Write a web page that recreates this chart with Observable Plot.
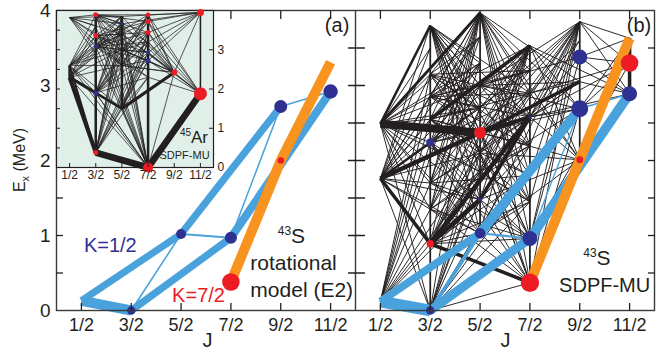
<!DOCTYPE html>
<html><head><meta charset="utf-8">
<script src="https://cdn.jsdelivr.net/npm/d3@7"></script>
<script src="https://cdn.jsdelivr.net/npm/@observablehq/plot@0.6"></script>
<style>
body{margin:0;background:#fff;}
#wrap{position:relative;width:665px;height:353px;}
#wrap svg{position:absolute;left:0;top:0;}
</style></head><body><div id="wrap"></div>
<script>
// ---------- tick labels ----------
const jLabels = ["1/2","3/2","5/2","7/2","9/2","11/2"];
const jValues = [0.5,1.5,2.5,3.5,4.5,5.5];
const eTicks = [0,1,2,3,4];
const eHalfTicks = [0.5,1,1.5,2,2.5,3,3.5];
const insetETicks = [0,1,2,3];

// ---------- panel (a): 43S rotational model (J1, E1, J2, E2, relative B(E2)) ----------
const rotK12 = [
  [0.5,0.13,1.5,0.00,1.0],
  [0.5,0.13,2.5,1.02,0.7],
  [2.5,1.02,4.5,2.72,0.72],
  [1.5,0.00,3.5,0.97,0.72],
  [3.5,0.97,5.5,2.92,0.82],
  [1.5,0.00,2.5,1.02,0.1],
  [2.5,1.02,3.5,0.97,0.14],
  [3.5,0.97,4.5,2.72,0.1],
  [4.5,2.72,5.5,2.92,0.1]
];
const rotK72 = [
  [3.5,0.38,4.5,2.00,1.0],
  [4.5,2.00,5.5,3.31,1.0]
];
// levels: J, E, band, relative strength
const rotLevels = [
  [1.5,0.00,"K1",0.42],[2.5,1.02,"K1",0.5],[3.5,0.97,"K1",0.6],[4.5,2.72,"K1",0.65],[5.5,2.92,"K1",0.72],
  [3.5,0.38,"K7",0.88],[4.5,2.00,"K7",0.33]
];

// ---------- panel (b): 43S SDPF-MU ----------
const smBlue = [
  [0.5,0.12,1.5,0.00,1.15],
  [0.5,0.12,2.5,1.03,0.78],
  [2.5,1.03,4.5,2.69,0.95],
  [1.5,0.00,3.5,0.96,0.9],
  [3.5,0.96,5.5,2.89,0.95],
  [1.5,0.00,2.5,1.03,0.32],
  [2.5,1.03,3.5,0.96,0.15],
  [3.5,0.96,4.5,2.69,0.08],
  [4.5,2.69,5.5,2.89,0.08]
];
const smOrange = [
  [3.5,0.37,4.5,2.01,1.0],
  [4.5,2.01,5.5,3.63,1.0]
];
const smFans = [
  "0.5 2.49 | 1.5: 0 0.89 1.35 1.7 2.24 2.55 2.85 3.15 3.5 3.8 | 2.5: 1.03 1.48 1.85 2.7 3.0 3.3 3.65",
  "0.5 1.76 | 1.5: 0 1.35 1.7 2.55 2.85 3.15 3.5 3.8 | 2.5: 1.03 1.48 2.1 2.7 3.0 3.3 3.65 3.97",
  "0.5 0.12 | 1.5: 0.89 1.35 1.7 2.24 2.55 2.85 3.15 | 2.5: 1.48 1.85 2.1",
  "1.5 3.8 | 2.5: 1.03 1.48 1.85 2.1 2.37 2.7 3.0 3.3 | 3.5: 0.37 0.96 1.45 1.8 2.2 2.58 2.9",
  "2.5 3.97 | 0.5: 0.12 | 1.5: 0 0.89 1.35 1.7 2.24 2.55 2.85 3.15 | 3.5: 0.37 0.96 1.45 1.8 2.2 2.58 2.9 3.2 | 4.5: 2.01 2.69 3.05",
  "3.5 3.53 | 1.5: 0 0.89 1.35 1.7 2.24 2.85 | 2.5: 1.03 1.48 1.85 2.1 2.37 2.7 3.0 | 4.5: 2.01 2.69 | 5.5: 2.89",
  "4.5 3.85 | 2.5: 1.03 1.48 1.85 2.1 2.37 2.7 3.0 | 3.5: 0.37 0.96 1.45 1.8 2.2 2.58 2.9 3.2 | 5.5: 2.89 3.3 3.63",
  "1.5 0.89 | 2.5: 1.03 1.85 2.1 2.37 2.7 | 3.5: 0.96 1.45 1.8 2.9",
  "1.5 0 | 2.5: 1.48 1.85 2.1 2.37 | 3.5: 0.37 1.45 1.8 2.2",
  "1.5 2.24 | 2.5: 1.03 1.48 2.37 2.7 3.0 3.3 | 3.5: 0.37 0.96 1.45 2.58 2.9 3.2",
  "1.5 2.85 | 2.5: 2.37 2.7 3.0 3.3 3.65 | 3.5: 2.2 2.58 2.9 3.2",
  "1.5 1.35 | 2.5: 1.03 1.85 2.7 3.3 | 3.5: 0.37 0.96 2.2",
  "1.5 1.7 | 2.5: 1.48 2.1 3.0 3.65 | 3.5: 0.96 1.8 2.58",
  "1.5 2.55 | 2.5: 1.85 2.1 2.37 2.7 3.3 | 3.5: 1.45 1.8 2.2 2.9",
  "1.5 3.15 | 2.5: 2.1 2.37 2.7 3.0 3.65 | 3.5: 2.2 2.58 3.2",
  "2.5 2.37 | 3.5: 0.37 0.96 1.45 2.9 3.2 | 4.5: 2.01 2.69",
  "2.5 1.03 | 3.5: 0.37 1.45 1.8 | 4.5: 2.01 2.69",
  "2.5 1.48 | 3.5: 0.37 0.96 2.2 | 4.5: 2.01",
  "2.5 3.0 | 3.5: 2.58 2.9 3.2 | 4.5: 2.69 3.05 3.38",
  "2.5 2.1 | 3.5: 0.37 0.96 1.8 2.9 | 4.5: 2.01 3.05",
  "2.5 1.85 | 3.5: 1.45 2.2 2.58 | 4.5: 2.69",
  "3.5 2.58 | 4.5: 2.01 2.69 3.05 3.38 3.6 | 5.5: 2.89 3.3",
  "3.5 0.37 | 4.5: 2.01 2.69",
  "3.5 0.96 | 4.5: 2.01 3.38 | 5.5: 2.89 3.3",
  "3.5 2.9 | 4.5: 2.01 3.05 3.6 | 5.5: 3.3",
  "4.5 3.38 | 5.5: 2.89 3.3 3.63",
  "4.5 2.69 | 5.5: 3.3 3.63",
  "4.5 3.05 | 5.5: 2.89"
];
const smStrong = [
  [0.5,2.49,2.5,2.37,0.75],
  [0.5,1.76,2.5,2.37,0.4],
  [0.5,2.49,2.5,3.97,0.22],
  [0.5,2.49,1.5,3.80,0.2],
  [0.5,1.76,1.5,0.89,0.3],
  [0.5,1.76,1.5,2.24,0.2],
  [1.5,0.89,2.5,1.48,0.4],
  [1.5,0.89,3.5,2.58,0.4],
  [1.5,0.89,3.5,0.37,0.3],
  [1.5,2.55,3.5,3.53,0.3],
  [2.5,2.37,3.5,2.58,0.35],
  [2.5,2.37,4.5,3.05,0.3],
  [2.5,1.48,3.5,2.58,0.3],
  [3.5,0.37,5.5,3.63,0.35]
];
const smVertical = [[1.5,0,3.8,0.12],[2.5,1.03,3.97,0.12],[3.5,0.37,3.53,0.12],[4.5,2.01,3.85,0.12],[5.5,2.89,3.63,0.3]];
const smLevels = [
  [1.5,0.00,"K1",0.42],[1.5,0.89,"K7",0.37],[1.5,2.24,"K1",0.4],
  [2.5,1.03,"K1",0.52],[2.5,1.48,"K1",0.2],[2.5,2.37,"K7",0.6],
  [3.5,0.96,"K1",0.75],[3.5,0.37,"K7",0.92],[3.5,2.58,"K1",0.14],
  [4.5,2.69,"K1",0.85],[4.5,3.38,"K1",0.75],[4.5,2.01,"K7",0.34],
  [5.5,2.89,"K1",0.75],[5.5,3.30,"K7",0.88]
];

// ---------- inset: 45Ar SDPF-MU ----------
const arFans = [
  "3.5 0 | 0.5: 2.3 2.6 | 1.5: 1.9 2.9 3.08 3.36 3.6 3.89 | 2.5: 1.5 2.6 3.0 3.4 3.66 3.85 | 4.5: 2.42",
  "1.5 0.38 | 0.5: 2.6 | 2.5: 1.5 2.6 3.0 3.4 3.66 3.85 | 3.5: 2.3 2.72 2.93 3.2 3.44",
  "5.5 1.88 | 3.5: 2.3 2.72 2.93 3.2 3.44 3.72 3.89 | 4.5: 2.42 | 2.5: 3.4",
  "5.5 3.95 | 3.5: 2.72 2.93 3.2 3.44 3.72 3.89 | 4.5: 2.42 | 2.5: 3.66 3.85",
  "4.5 2.42 | 3.5: 2.72 2.93 3.2 3.44 3.72 3.89 | 2.5: 2.6 3.0 3.4 3.66 3.85",
  "0.5 3.82 | 1.5: 2.9 3.08 3.36 3.6 3.89 | 2.5: 2.6 3.0 3.4 3.66 3.85",
  "0.5 2.6 | 1.5: 1.9 2.9 3.08 3.36 3.6 3.89 | 2.5: 1.5 2.6 3.0 3.4 3.66 3.85",
  "0.5 2.3 | 1.5: 2.9 3.08 3.36 3.6 | 2.5: 1.5 2.6 3.0 3.4 3.66",
  "1.5 1.9 | 2.5: 2.6 3.0 3.4 3.66 3.85 | 3.5: 0 2.3 2.72 2.93 3.2 3.44 3.72 3.89",
  "1.5 3.08 | 2.5: 2.6 3.0 3.4 3.66 3.85 | 3.5: 2.3 2.72 2.93 3.2 3.44 3.72 3.89",
  "1.5 3.89 | 2.5: 2.6 3.0 3.4 3.66 3.85 | 3.5: 2.72 3.2 3.44 3.72 3.89",
  "1.5 3.36 | 2.5: 2.6 3.0 3.4 3.85 | 3.5: 2.3 2.93 3.44 3.72",
  "2.5 1.5 | 3.5: 2.3 2.72 2.93 3.2 3.44",
  "2.5 3.0 | 3.5: 2.72 2.93 3.2 3.44 3.72 3.89 | 4.5: 2.42",
  "2.5 2.6 | 3.5: 2.72 3.2 3.44 3.89 | 4.5: 2.42"
];
const arStrong = [
  [1.5,0.38,3.5,0.00,0.6],
  [3.5,0.00,5.5,1.88,0.6],
  [0.5,2.30,1.5,0.38,0.35],
  [0.5,2.30,1.5,1.90,0.25],
  [2.5,1.50,4.5,2.42,0.25],
  [1.5,1.90,2.5,1.50,0.2],
  [0.5,2.60,1.5,0.38,0.15],
  [0.5,2.30,0.5,2.60,0.2]
];
const arVertical = [[1.5,0.38,3.89,0.2],[2.5,1.5,3.85,0.2],[3.5,0,3.89,0.2],[5.5,1.88,3.95,0.1]];
const arLevels = [
  [1.5,3.89,"K7",0.25],[1.5,3.36,"K7",0.25],[1.5,3.08,"K1",0.2],[1.5,1.90,"K1",0.25],[1.5,0.38,"K7",0.25],
  [2.5,3.66,"K1",0.15],
  [3.5,3.89,"K7",0.23],[3.5,3.72,"K7",0.25],[3.5,3.44,"K7",0.25],[3.5,2.93,"K1",0.2],[3.5,2.72,"K1",0.25],[3.5,0.00,"K7",0.5],
  [4.5,2.42,"K7",0.3],
  [5.5,3.95,"K7",0.35],[5.5,1.88,"K7",0.65]
];

// ---------- styling ----------
const C = {blue:"#4aa2dc", orange:"#f7931e", red:"#ed1c24", navy:"#2e3192", ink:"#231f20", bg:"#e1efe9"};
const FONT = "'Liberation Sans', Arial, Helvetica, sans-serif";

function parseFans(list, s) {
  const out = [];
  for (const line of list) {
    const [src, ...groups] = line.split("|");
    const [j1, e1] = src.trim().split(/\s+/).map(Number);
    for (const g of groups) {
      const [jt, es] = g.split(":");
      for (const e of es.trim().split(/\s+/)) out.push({j1, e1, j2: +jt, e2: +e, s});
    }
  }
  return out;
}
const rows = a => a.map(r => ({j1:r[0], e1:r[1], j2:r[2], e2:r[3], s:r[4]}));
const verts = a => a.map(r => ({j1:r[0], e1:r[1], j2:r[0], e2:r[2], s:r[3]}));
const lvls = a => a.map(r => ({j:r[0], e:r[1], k:r[2], s:r[3]}));

function links(data, off, stroke, wf) {
  return Plot.link(data, {x1: d => d.j1 + off, y1: "e1", x2: d => d.j2 + off, y2: "e2",
    stroke, strokeWidth: d => wf(d.s)});
}
function dots(data, off) {
  return Plot.dot(data, {x: d => d.j + off, y: "e", r: "s", fill: d => d.k === "K1" ? C.navy : C.red, stroke: "none"});
}
const thin = s => 0.55 + 10 * s;
const band = s => 10 * s;
const lineShape = {draw(ctx, l) { ctx.moveTo(0, 0); ctx.lineTo(0, -l); }};
const jFmt = t => jLabels[Math.round(t - 0.5) % 6];
const intFmt = d3.format("d");
const allJ = jValues.concat(jValues.map(v => v + 6));

const main = Plot.plot({
  width: 665, height: 353,
  marginLeft: 56, marginRight: 11, marginTop: 10, marginBottom: 43,
  x: {domain: [0, 12]},
  y: {domain: [0, 4]},
  r: {type: "linear", domain: [0, 1], range: [0, 10]},
  style: {background: "transparent", fontFamily: FONT, color: C.ink},
  marks: [
    links(parseFans(smFans, 0.04), 6, C.ink, thin),
    links(verts(smVertical), 6, C.ink, thin),
    links(rows(smStrong), 6, C.ink, thin),
    links(rows(smBlue).filter(d => d.s < 0.5), 6, C.blue, thin),
    links(rows(smBlue).filter(d => d.s >= 0.5), 6, C.blue, band),
    links(rows(smOrange), 6, C.orange, band),
    links(rows(rotK12).filter(d => d.s < 0.5), 0, C.blue, thin),
    links(rows(rotK12).filter(d => d.s >= 0.5), 0, C.blue, band),
    links(rows(rotK72), 0, C.orange, band),
    dots(lvls(rotLevels), 0),
    dots(lvls(smLevels), 6),
    Plot.frame({stroke: "#3a3a3a", strokeWidth: 1.4}),
    Plot.ruleX([6], {stroke: "#3a3a3a", strokeWidth: 1.4}),
    Plot.axisY({anchor: "left", ticks: eHalfTicks, tickSize: 7, dx: 7, tickFormat: () => "", label: null, strokeWidth: 1.3}),
    Plot.axisY({anchor: "left", ticks: eTicks, tickSize: 0, tickPadding: 6, tickFormat: intFmt, fontSize: 19, label: null}),
    Plot.axisY({anchor: "right", ticks: eHalfTicks, tickSize: 7, dx: -7, tickFormat: () => "", label: null, strokeWidth: 1.3}),
    Plot.vector(eHalfTicks, {x: () => 6, y: d => d, length: 9, rotate: 90, anchor: "start", shape: lineShape, stroke: C.ink, strokeWidth: 1.3}),
    Plot.vector(eHalfTicks, {x: () => 6, y: d => d, length: 7, rotate: -90, anchor: "start", shape: lineShape, stroke: C.ink, strokeWidth: 1.3}),
    Plot.axisX({anchor: "bottom", ticks: allJ, tickSize: 7, dy: -7, tickFormat: () => "", label: null, strokeWidth: 1.3}),
    Plot.axisX({anchor: "bottom", ticks: allJ, tickSize: 0, tickPadding: 8, tickFormat: jFmt, fontSize: 18, label: null}),
    Plot.axisX({anchor: "top", ticks: allJ, tickSize: 8, dy: 8, tickFormat: () => "", label: null, strokeWidth: 1.3}),
    Plot.text(["(a)", "(b)"], {x: (d, i) => [5.63, 11.69][i], y: 3.8, text: d => d, fontSize: 20, fill: C.ink}),
    Plot.text(["J", "J"], {x: (d, i) => [3.03, 9.01][i], y: -0.4, text: d => d, fontSize: 20, fill: C.ink}),
    Plot.text(["K=1/2"], {x: 1.08, y: 0.87, text: d => d, fontSize: 20, fill: C.navy}),
    Plot.text(["K=7/2"], {x: 2.85, y: 0.2, text: d => d, fontSize: 20, fill: C.red}),
    Plot.text(["rotational", "model (E2)"], {x: 3.89, y: (d, i) => [0.63, 0.27][i], text: d => d, fontSize: 21, textAnchor: "start", fill: C.ink}),
    Plot.text(["SDPF-MU"], {x: 11.0, y: 0.33, text: d => d, fontSize: 20, fill: C.ink})
  ]
});

const inset = Plot.plot({
  width: 240, height: 190,
  marginLeft: 56, marginRight: 27, marginTop: 10, marginBottom: 23,
  x: {domain: [0, 6]},
  y: {domain: [0, 4]},
  r: {type: "linear", domain: [0, 1], range: [0, 10]},
  style: {background: "transparent", fontFamily: FONT, color: C.ink},
  marks: [
    Plot.frame({fill: C.bg, stroke: C.ink, strokeWidth: 1.2}),
    links(parseFans(arFans, 0.02), 0, C.ink, thin),
    links(verts(arVertical), 0, C.ink, thin),
    links(rows(arStrong), 0, C.ink, thin),
    dots(lvls(arLevels), 0),
    Plot.axisX({anchor: "bottom", ticks: jValues, tickSize: 4, dy: -4, tickFormat: () => "", label: null}),
    Plot.axisX({anchor: "bottom", ticks: jValues, tickSize: 0, tickPadding: 3, tickFormat: jFmt, fontSize: 12, label: null}),
    Plot.axisY({anchor: "right", ticks: insetETicks, tickSize: 5, dx: -5, tickFormat: () => "", label: null}),
    Plot.axisY({anchor: "right", ticks: insetETicks, tickSize: 0, tickPadding: 4, tickFormat: intFmt, fontSize: 12, label: null}),
    Plot.axisY({anchor: "left", ticks: eHalfTicks, tickSize: 4, dx: 4, tickFormat: () => "", label: null}),
    Plot.text(["SDPF-MU"], {x: 5.85, y: 0.31, text: d => d, fontSize: 11, textAnchor: "end", fill: C.ink})
  ]
});

const wrap = document.getElementById("wrap");
wrap.appendChild(main);
wrap.appendChild(inset);

// rich text (super/subscripts) placed through the plots' scales
function nuclide(svg, x, y, mass, sym, big, small, anchor) {
  const t = d3.select(svg).append("text")
    .attr("x", x).attr("y", y).attr("text-anchor", anchor)
    .attr("font-family", FONT).attr("fill", C.ink);
  t.append("tspan").attr("font-size", small).attr("dy", -big * 0.4).text(mass);
  t.append("tspan").attr("font-size", big).attr("dy", big * 0.4).text(sym);
}
const mx = main.scale("x"), my = main.scale("y");
nuclide(main, mx.apply(4.45), my.apply(0.89), "43", "S", 21, 12, "start");
nuclide(main, mx.apply(10.58), my.apply(0.6), "43", "S", 21, 12, "start");
const ix = inset.scale("x"), iy = inset.scale("y");
nuclide(inset, ix.apply(5.81), iy.apply(0.61), "45", "Ar", 17, 10, "end");

const ex = d3.select(main).append("text")
  .attr("transform", `translate(${mx.apply(0) - 31},${my.apply(2)}) rotate(-90)`)
  .attr("text-anchor", "middle").attr("font-family", FONT).attr("font-size", 16).attr("fill", C.ink);
ex.append("tspan").text("E");
ex.append("tspan").attr("font-size", 11).attr("dy", 4).text("x");
ex.append("tspan").attr("dy", -4).text(" (MeV)");
</script></body></html>
